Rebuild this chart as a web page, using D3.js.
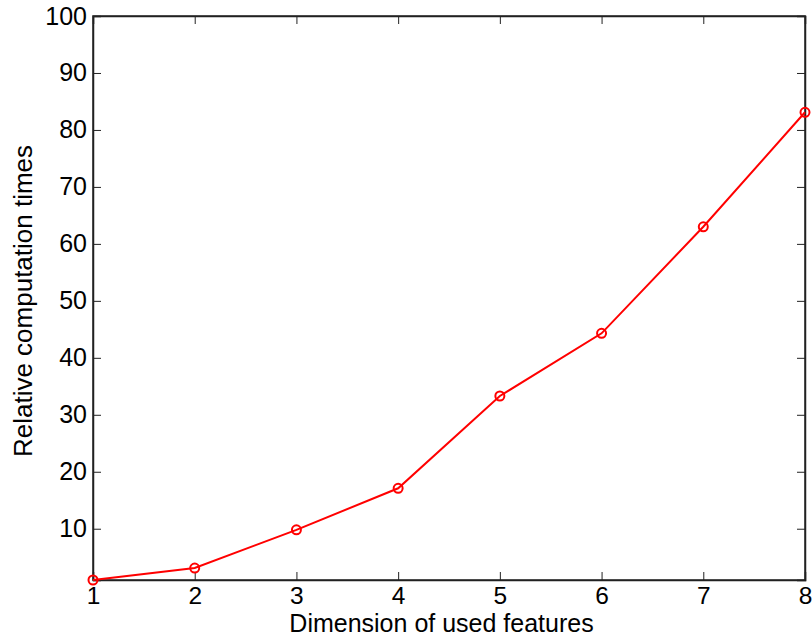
<!DOCTYPE html>
<html>
<head>
<meta charset="utf-8">
<script src="https://cdn.jsdelivr.net/npm/d3@7"></script>
<style>
  body { margin: 0; background: #fff; }
  text { font-family: "Liberation Sans", Arial, sans-serif; fill: #000; }
</style>
</head>
<body>
<div id="my_dataviz"></div>
<script>
// data
var dims = [1, 2, 3, 4, 5, 6, 7, 8];
var times = [1, 3.1, 9.8, 17.1, 33.3, 44.3, 63, 83.1];
var yTicks = [10, 20, 30, 40, 50, 60, 70, 80, 90, 100];

var W = 812, H = 639;
var margin = {top: 16, right: 7, bottom: 59, left: 93},
    width = W - margin.left - margin.right,
    height = H - margin.top - margin.bottom;

var svg = d3.select("#my_dataviz")
  .append("svg")
    .attr("width", W)
    .attr("height", H)
  .append("g")
    .attr("transform", "translate(" + margin.left + "," + margin.top + ")");

var x = d3.scaleLinear()
    .domain([1, 8])
    .range([0, width]);

var y = d3.scaleLinear()
    .domain([1, 100])
    .range([height, 0]);

var tickLen = 8;

// bottom axis, ticks pointing inward
var xAxis = svg.append("g")
    .attr("transform", "translate(0," + height + ")")
    .call(d3.axisBottom(x).tickValues(dims).tickSize(-tickLen).tickPadding(7).tickFormat(d3.format("d")));
xAxis.attr("font-size", null).attr("font-family", null);
xAxis.selectAll("text").style("font-size", "24.5px");

// top mirror ticks
svg.append("g")
    .call(d3.axisTop(x).tickValues(dims).tickSize(-tickLen).tickFormat(""));

// left axis
var yAxis = svg.append("g")
    .call(d3.axisLeft(y).tickValues(yTicks).tickSize(-tickLen).tickPadding(6).tickFormat(d3.format("d")));
yAxis.attr("font-size", null).attr("font-family", null);
yAxis.selectAll("text").style("font-size", "25px");

// right mirror ticks
svg.append("g")
    .attr("transform", "translate(" + width + ",0)")
    .call(d3.axisRight(y).tickValues(yTicks).tickSize(-tickLen).tickFormat(""));

svg.selectAll(".domain").attr("stroke", "#222").attr("stroke-width", 1.5);
svg.selectAll(".tick line").attr("stroke", "#222").attr("stroke-width", 1);

// frame
svg.append("rect")
    .attr("x", 0).attr("y", 0)
    .attr("width", width).attr("height", height)
    .attr("fill", "none")
    .attr("stroke", "#222")
    .attr("stroke-width", 1.5);

var data = dims.map(function(d, i) { return {x: d, y: times[i]}; });

svg.append("path")
    .datum(data)
    .attr("fill", "none")
    .attr("stroke", "#ff0000")
    .attr("stroke-width", 2)
    .attr("d", d3.line()
      .x(function(d) { return x(d.x); })
      .y(function(d) { return y(d.y); }));

svg.append("g")
  .selectAll("circle")
  .data(data)
  .enter()
  .append("circle")
    .attr("cx", function(d) { return x(d.x); })
    .attr("cy", function(d) { return y(d.y); })
    .attr("r", 4.5)
    .attr("fill", "none")
    .attr("stroke", "#ff0000")
    .attr("stroke-width", 2);

// axis labels
svg.append("text")
    .attr("x", (280 + 603) / 2 - margin.left)
    .attr("y", 632 - margin.top)
    .attr("text-anchor", "middle")
    .style("font-size", "25px")
    .text("Dimension of used features");

svg.append("text")
    .attr("x", -(301 - margin.top))
    .attr("y", 32 - margin.left)
    .attr("transform", "rotate(-90)")
    .attr("text-anchor", "middle")
    .style("font-size", "26px")
    .text("Relative computation times");
</script>
</body>
</html>
